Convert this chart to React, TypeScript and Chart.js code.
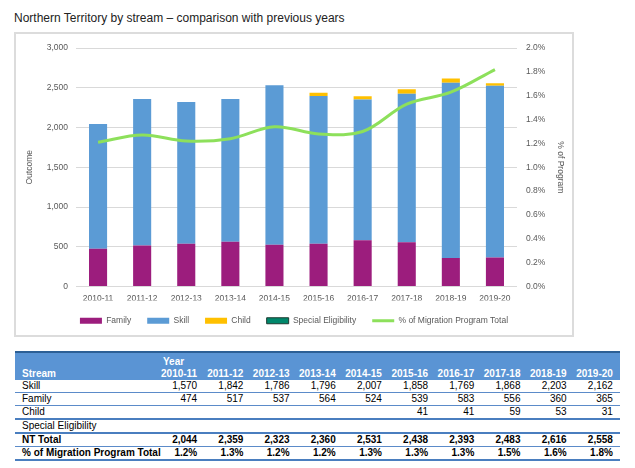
import React, { useEffect, useRef } from "react";
import { Chart, registerables } from "chart.js";

Chart.register(...registerables);

const categories = ["2010-11", "2011-12", "2012-13", "2013-14", "2014-15", "2015-16", "2016-17", "2017-18", "2018-19", "2019-20"];
const family = [474, 517, 537, 564, 524, 539, 583, 556, 360, 365];
const skill = [1570, 1842, 1786, 1796, 2007, 1858, 1769, 1868, 2203, 2162];
const child: (number | null)[] = [null, null, null, null, null, 41, 41, 59, 53, 31];
const specialEligibility: (number | null)[] = [null, null, null, null, null, null, null, null, null, null];
const programPct = [1.21, 1.27, 1.22, 1.24, 1.34, 1.28, 1.3, 1.53, 1.63, 1.82];

const ntTotal = ["2,044", "2,359", "2,323", "2,360", "2,531", "2,438", "2,393", "2,483", "2,616", "2,558"];
const pctLabels = ["1.2%", "1.3%", "1.2%", "1.2%", "1.3%", "1.3%", "1.3%", "1.5%", "1.6%", "1.8%"];

const FONT = "'Liberation Sans', Arial, sans-serif";
const TICK = "#595959";

const fmt = (v: number | null) => (v == null ? "" : v.toLocaleString("en-US"));

function ChartBox() {
  const ref = useRef<HTMLCanvasElement | null>(null);
  useEffect(() => {
    if (!ref.current) return;
    const chart = new Chart(ref.current, {
      type: "bar",
      data: {
        labels: categories,
        datasets: [
          { type: "bar", label: "Family", data: family, backgroundColor: "#9C1D7D", borderWidth: 0, stack: "s", order: 1 },
          { type: "bar", label: "Skill", data: skill, backgroundColor: "#5B9BD5", borderWidth: 0, stack: "s", order: 1 },
          { type: "bar", label: "Child", data: child, backgroundColor: "#FFC000", borderWidth: 0, stack: "s", order: 1 },
          { type: "bar", label: "Special Eligibility", data: specialEligibility, backgroundColor: "#00876B", borderColor: "#1C3B30", borderWidth: 1, stack: "s", order: 1 },
          {
            type: "line",
            label: "% of Migration Program Total",
            data: programPct,
            yAxisID: "y1",
            borderColor: "#8DE05B",
            backgroundColor: "#8DE05B",
            borderWidth: 3,
            pointRadius: 0,
            tension: 0.35,
            stack: "l",
            order: 0,
          } as any,
        ],
      },
      options: {
        responsive: false,
        animation: false,
        layout: { padding: { top: 12, left: 0, right: 0, bottom: 0 } },
        datasets: { bar: { categoryPercentage: 1, barPercentage: 0.41 } } as any,
        plugins: {
          tooltip: { enabled: false },
          legend: {
            position: "bottom",
            labels: {
              font: { family: FONT, size: 8.5 },
              color: TICK,
              usePointStyle: true,
              pointStyleWidth: 22,
              boxHeight: 6,
              padding: 16,
              sort: (a: any, b: any) => a.datasetIndex - b.datasetIndex,
              generateLabels: (c: any) => {
                const items = (Chart.defaults.plugins.legend.labels as any).generateLabels(c);
                return items.map((it: any) => ({
                  ...it,
                  pointStyle: it.datasetIndex === 4 ? "line" : "rect",
                  lineWidth: it.datasetIndex === 4 ? 3 : it.datasetIndex === 3 ? 1 : 0,
                }));
              },
            },
          } as any,
        },
        scales: {
          x: {
            stacked: true,
            grid: { display: false, drawTicks: false },
            border: { display: false },
            ticks: { font: { family: FONT, size: 8.5 }, color: TICK, padding: 7, maxRotation: 0 },
            afterFit: (s: any) => { s.height = 14; },
          },
          y: {
            stacked: true,
            min: 0,
            max: 3000,
            ticks: { stepSize: 500, font: { family: FONT, size: 8.5 }, color: TICK, padding: 8, callback: (v: any) => Number(v).toLocaleString("en-US") },
            grid: { color: "#D9D9D9", drawTicks: false },
            border: { display: false },
            title: { display: true, text: "Outcome", font: { family: FONT, size: 8.5 }, color: TICK, padding: { top: 9, bottom: 0 } },
            afterFit: (s: any) => { s.width = 60; },
          },
          y1: {
            position: "right",
            stacked: false,
            min: 0,
            max: 2,
            ticks: { stepSize: 0.2, font: { family: FONT, size: 8.5 }, color: TICK, padding: 9, callback: (v: any) => Number(v).toFixed(1) + "%" },
            grid: { display: false, drawTicks: false },
            border: { display: false },
            title: { display: true, text: "% of Program", font: { family: FONT, size: 8.5 }, color: TICK, padding: { top: 7, bottom: 0 } },
            afterFit: (s: any) => { s.width = 55; },
          },
        },
      },
    });
    return () => chart.destroy();
  }, []);
  return <canvas ref={ref} width={556} height={301} style={{ display: "block", width: 556, height: 301 }} />;
}

const COLW = 46.2;
const FIRSTW = 143;

function Row({ label, values, bold, border, height }: { label: string; values: string[]; bold?: boolean; border: string; height: number }) {
  return (
    <div style={{ display: "flex", height, borderBottom: border, boxSizing: "border-box", alignItems: "center", fontWeight: bold ? "bold" : "normal" }}>
      <div style={{ width: FIRSTW, paddingLeft: 7, boxSizing: "border-box", whiteSpace: "nowrap" }}>{label}</div>
      {values.map((v, i) => (
        <div key={i} style={{ width: COLW, paddingRight: 7, boxSizing: "border-box", textAlign: "right" }}>{v}</div>
      ))}
    </div>
  );
}

function DataTable() {
  const thin = "1px solid #5B8BC9";
  const thick = "2px solid #4A7EBF";
  return (
    <div style={{ position: "absolute", left: 15, top: 351, width: 605, fontFamily: FONT, fontSize: 10, color: "#000", lineHeight: "12px" }}>
      <div style={{ background: "#5A94D4", borderTop: "2px solid #2C5F95", color: "#fff", fontWeight: "bold", boxSizing: "border-box", height: 29 }}>
        <div style={{ display: "flex", height: 15, alignItems: "flex-end" }}>
          <div style={{ width: FIRSTW }} />
          <div style={{ paddingLeft: 5 }}>Year</div>
        </div>
        <div style={{ display: "flex", height: 12, alignItems: "center" }}>
          <div style={{ width: FIRSTW, paddingLeft: 7, boxSizing: "border-box" }}>Stream</div>
          {categories.map((c) => (
            <div key={c} style={{ width: COLW, paddingRight: 7, boxSizing: "border-box", textAlign: "right" }}>{c}</div>
          ))}
        </div>
      </div>
      <Row label="Skill" values={skill.map(fmt)} border={thin} height={13} />
      <Row label="Family" values={family.map(fmt)} border={thin} height={13} />
      <Row label="Child" values={child.map(fmt)} border={thick} height={14} />
      <Row label="Special Eligibility" values={specialEligibility.map(fmt)} border={thick} height={14} />
      <Row label="NT Total" values={ntTotal} bold border={thin} height={13} />
      <Row label="% of Migration Program Total" values={pctLabels} bold border={thick} height={14} />
    </div>
  );
}

export default function App() {
  return (
    <div style={{ position: "fixed", left: 0, top: 0, width: 635, height: 468, background: "#fff", overflow: "hidden" }}>
      <div style={{ position: "absolute", left: 14, top: 11, fontFamily: FONT, fontSize: 12, color: "#222", whiteSpace: "nowrap" }}>
        Northern Territory by stream – comparison with previous years
      </div>
      <div style={{ position: "absolute", left: 14, top: 32, width: 560, height: 305, border: "2px solid #DCDCDC", boxSizing: "border-box" }}>
        <ChartBox />
      </div>
      <DataTable />
    </div>
  );
}
